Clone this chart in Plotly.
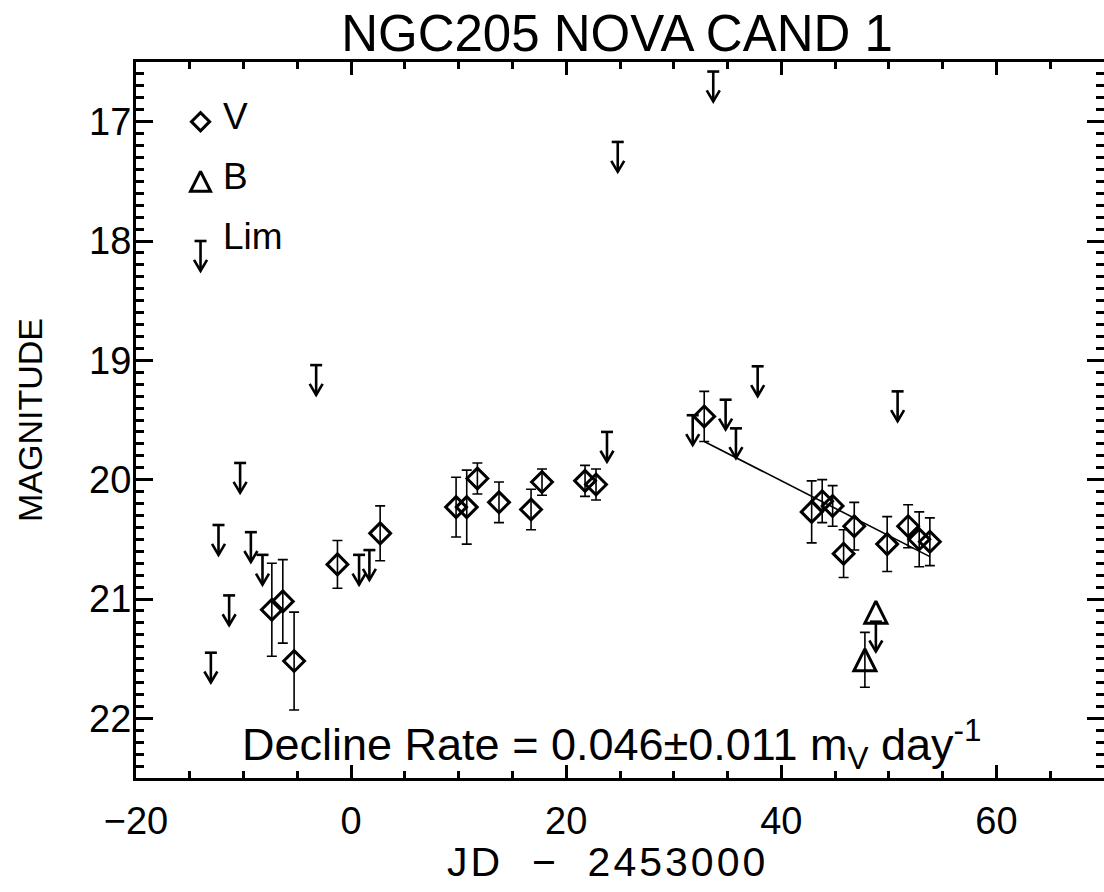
import plotly.graph_objects as go

# ---------------- data (JD - 2453000, magnitude) ----------------
v_jd = [-7.37, -6.35, -5.30, -1.27, 2.70, 9.76, 10.75, 11.74, 13.75, 16.73, 17.75,
        21.75, 22.77, 32.83, 42.82, 43.80, 44.77, 45.79, 46.78, 49.84, 51.79, 52.82, 53.81]
v_mag = [21.09, 21.02, 21.52, 20.71, 20.45, 20.23, 20.23, 19.99, 20.19, 20.25, 20.02,
         20.01, 20.04, 19.47, 20.27, 20.18, 20.22, 20.62, 20.39, 20.54, 20.39, 20.50, 20.52]
v_err = [0.39, 0.35, 0.41, 0.20, 0.23, 0.25, 0.31, 0.13, 0.17, 0.17, 0.11,
         0.13, 0.13, 0.21, 0.26, 0.18, 0.17, 0.20, 0.20, 0.23, 0.18, 0.23, 0.20]

b_jd = [47.77]
b_mag = [21.51]
b_err = [0.23]

b2_jd = [48.79]
b2_mag = [21.11]

lim_jd = [-13.04, -12.33, -11.34, -10.32, -9.32, -8.24, -3.25, 0.74, 1.70, 23.79,
          24.79, 31.76, 33.67, 34.82, 35.78, 37.80, 48.79, 50.81]
lim_mag = [21.45, 20.38, 20.97, 19.86, 20.44, 20.63, 19.04, 20.63, 20.59, 19.60,
           17.17, 19.46, 16.58, 19.33, 19.57, 19.05, 21.19, 19.26]

fit_jd = [32.83, 53.81]
fit_mag0 = 19.68
decline_rate = 0.046

legend_jd = -14.0
legend_mag = [17.0, 17.5, 18.0]
legend_labels = ["V", "B", "Lim"]

x_ticks = [-20, 0, 20, 40, 60]
y_ticks = [17, 18, 19, 20, 21, 22]

# ---------------- geometry ----------------
W, H = 1104, 892
ML, MR, MT, MB = 136, 0, 62, 114
XR = [-20, 70]
YR = [22.5, 16.5]
pw, ph = W - ML - MR, H - MT - MB
px_x = pw / (XR[1] - XR[0])
px_y = ph / (YR[0] - YR[1])

FONT = "Liberation Sans, Arial, sans-serif"
ARROW_LEN = 0.25
bar_hw = 6.0 / px_x
head_hw = 6.5 / px_x
head_h = 11.0 / px_y


def arrows(xs, ms):
    ax, ay = [], []
    for x, m in zip(xs, ms):
        ax += [x - bar_hw, x + bar_hw, None]
        ax += [x, x, None]
        ax += [x - head_hw, x, x + head_hw, None]
        ay += [m, m, None]
        ay += [m, m + ARROW_LEN, None]
        ay += [m + ARROW_LEN - head_h, m + ARROW_LEN, m + ARROW_LEN - head_h, None]
    return ax, ay


fig = go.Figure()

# V detections
fig.add_trace(go.Scatter(
    x=v_jd, y=v_mag, mode="markers",
    marker=dict(symbol="diamond-open", size=16, color="black", line=dict(width=3, color="black")),
    error_y=dict(type="data", array=v_err, visible=True, color="black", thickness=1.6, width=5),
    showlegend=False))

# B detection with error
fig.add_trace(go.Scatter(
    x=b_jd, y=b_mag, mode="markers",
    marker=dict(symbol="arrow-down-open", angle=180, standoff=11, size=22, color="black",
                line=dict(width=3, color="black")),
    error_y=dict(type="data", array=b_err, visible=True, color="black", thickness=1.6, width=5),
    showlegend=False))

# B point above limit arrow
fig.add_trace(go.Scatter(
    x=b2_jd, y=b2_mag, mode="markers",
    marker=dict(symbol="arrow-down-open", angle=180, standoff=11, size=22, color="black",
                line=dict(width=3, color="black")),
    showlegend=False))

# upper-limit arrows
lx, ly = arrows(lim_jd, lim_mag)
fig.add_trace(go.Scatter(x=lx, y=ly, mode="lines", line=dict(color="black", width=2.6),
                         showlegend=False, hoverinfo="skip"))

# decline fit line
fit_y = [fit_mag0 + decline_rate * (x - fit_jd[0]) for x in fit_jd]
fig.add_trace(go.Scatter(x=fit_jd, y=fit_y, mode="lines", line=dict(color="black", width=1.6),
                         showlegend=False))

# in-plot legend symbols
fig.add_trace(go.Scatter(
    x=[legend_jd], y=[legend_mag[0]], mode="markers",
    marker=dict(symbol="diamond-open", size=14, color="black", line=dict(width=3, color="black")),
    showlegend=False))
fig.add_trace(go.Scatter(
    x=[legend_jd], y=[legend_mag[1]], mode="markers",
    marker=dict(symbol="arrow-down-open", angle=180, standoff=10, size=20, color="black",
                line=dict(width=3, color="black")),
    showlegend=False))
gx, gy = arrows([legend_jd], [legend_mag[2]])
fig.add_trace(go.Scatter(x=gx, y=gy, mode="lines", line=dict(color="black", width=2.6),
                         showlegend=False, hoverinfo="skip"))

for lab, m in zip(legend_labels, legend_mag):
    fig.add_annotation(x=legend_jd, y=m, xref="x", yref="y", text=lab, showarrow=False,
                       xanchor="left", yanchor="middle", xshift=20, yshift=5,
                       font=dict(family=FONT, size=37, color="black"))

fig.add_annotation(
    x=(240 - ML) / pw, y=0.0, xref="paper", yref="paper", xanchor="left", yanchor="bottom",
    text="Decline Rate = 0.046±0.011 m<sub>V</sub> day<sup>-1</sup>", showarrow=False,
    font=dict(family=FONT, size=45, color="black"))

fig.add_annotation(
    x=(607 - ML) / pw, y=-(862 - (MT + ph)) / ph, xref="paper", yref="paper",
    xanchor="center", yanchor="middle",
    text='<span style="letter-spacing:3px">JD  −  2453000</span>', showarrow=False,
    font=dict(family=FONT, size=41, color="black"))

fig.add_annotation(
    x=(30 - ML) / pw, y=0.5, xref="paper", yref="paper", xanchor="center", yanchor="middle",
    text="MAGNITUDE", textangle=-90, showarrow=False, font=dict(family=FONT, size=34, color="black"))

axis_common = dict(showgrid=False, zeroline=False, showline=True, linecolor="black", linewidth=3,
                   mirror="allticks", ticks="inside", tickcolor="black", tickwidth=3,
                   tickfont=dict(family=FONT, size=38, color="black"))

fig.update_xaxes(range=XR, tickmode="array", tickvals=x_ticks, ticklen=13,
                 minor=dict(ticks="inside", dtick=5, tick0=0, ticklen=7, tickwidth=3, tickcolor="black"),
                 ticklabelstandoff=7, **axis_common)
fig.update_yaxes(range=YR, tickmode="array", tickvals=y_ticks, ticklen=17,
                 minor=dict(ticks="inside", dtick=0.1, tick0=0, ticklen=8, tickwidth=3, tickcolor="black"),
                 ticklabelstandoff=-6, **axis_common)

fig.update_layout(
    width=W, height=H, margin=dict(l=ML, r=MR, t=MT, b=MB, autoexpand=False),
    plot_bgcolor="white", paper_bgcolor="white",
    title=dict(text="NGC205 NOVA CAND 1", x=(617 - ML) / pw, xref="paper", xanchor="center",
               y=1 - 33 / H, yanchor="middle",
               font=dict(family=FONT, size=51, color="black")),
    showlegend=False)

fig.write_html("out.html", config={"displayModeBar": False},
               post_script="document.body.style.margin='0';document.body.style.overflow='hidden';")
